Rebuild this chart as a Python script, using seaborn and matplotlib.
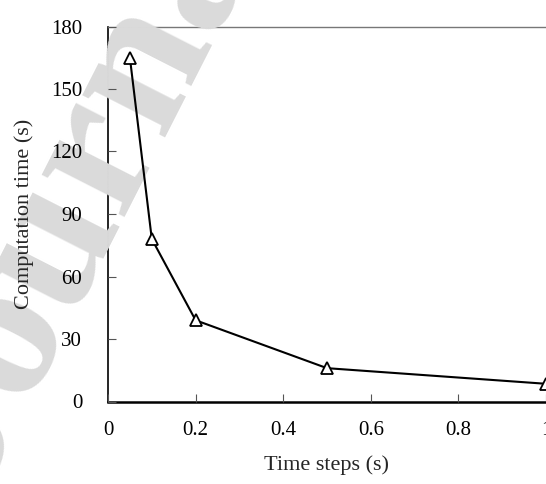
import matplotlib
matplotlib.use("Agg")
import matplotlib.pyplot as plt
import seaborn as sns
import pandas as pd

# ---- data ----
time_steps = [0.05, 0.1, 0.2, 0.5, 1.0]
computation_time = [165, 78, 39, 16, 8.5]
x_ticks = [0, 0.2, 0.4, 0.6, 0.8, 1]
x_tick_labels = ["0", "0.2", "0.4", "0.6", "0.8", "1"]
y_ticks = [0, 30, 60, 90, 120, 150, 180]
x_label = "Time steps (s)"
y_label = "Computation time (s)"
watermark = "Journal Pre-proof"

df = pd.DataFrame({"t": time_steps, "c": computation_time})

sns.set_theme(style="ticks")
plt.rcParams["font.family"] = ["Liberation Serif", "DejaVu Serif"]

fig = plt.figure(figsize=(5.46, 4.84), dpi=100)
ax = fig.add_axes([108 / 546, (484 - 401.5) / 484, 438 / 546, 375 / 484])

# watermark
ax.text(-0.035, -0.035, watermark, transform=fig.transFigure, rotation=63,
        rotation_mode="anchor", ha="left", va="baseline", fontsize=145,
        fontweight="bold", color="#dadada", zorder=2.6, clip_on=False)

sns.lineplot(data=df, x="t", y="c", ax=ax, color="black", linewidth=1.5,
             marker="^", markersize=9, markerfacecolor="white",
             markeredgecolor="black", markeredgewidth=1.3, zorder=3,
             clip_on=False)

ax.set_xlim(0, 1)
ax.set_ylim(0, 180)
ax.set_xticks(x_ticks)
ax.set_xticklabels(x_tick_labels)
ax.set_yticks(y_ticks)

ax.tick_params(axis="both", direction="in", length=5.5, width=0.8,
               colors="black", labelsize=15)
ax.tick_params(axis="y", pad=18.5)
ax.tick_params(axis="x", pad=14)
ax.tick_params(axis="both", color="#555555")

ax.set_xlabel(x_label, fontsize=16, labelpad=11)
ax.set_ylabel(y_label, fontsize=16, labelpad=12)

ax.spines["right"].set_visible(False)
ax.spines["top"].set_color("#777777")
ax.spines["top"].set_linewidth(1.0)
ax.spines["left"].set_color("black")
ax.spines["left"].set_linewidth(1.2)
ax.spines["bottom"].set_color("black")
ax.spines["bottom"].set_linewidth(1.8)

ax.xaxis.set_zorder(3)
ax.yaxis.set_zorder(3)

fig.savefig("out.png", dpi=100)
